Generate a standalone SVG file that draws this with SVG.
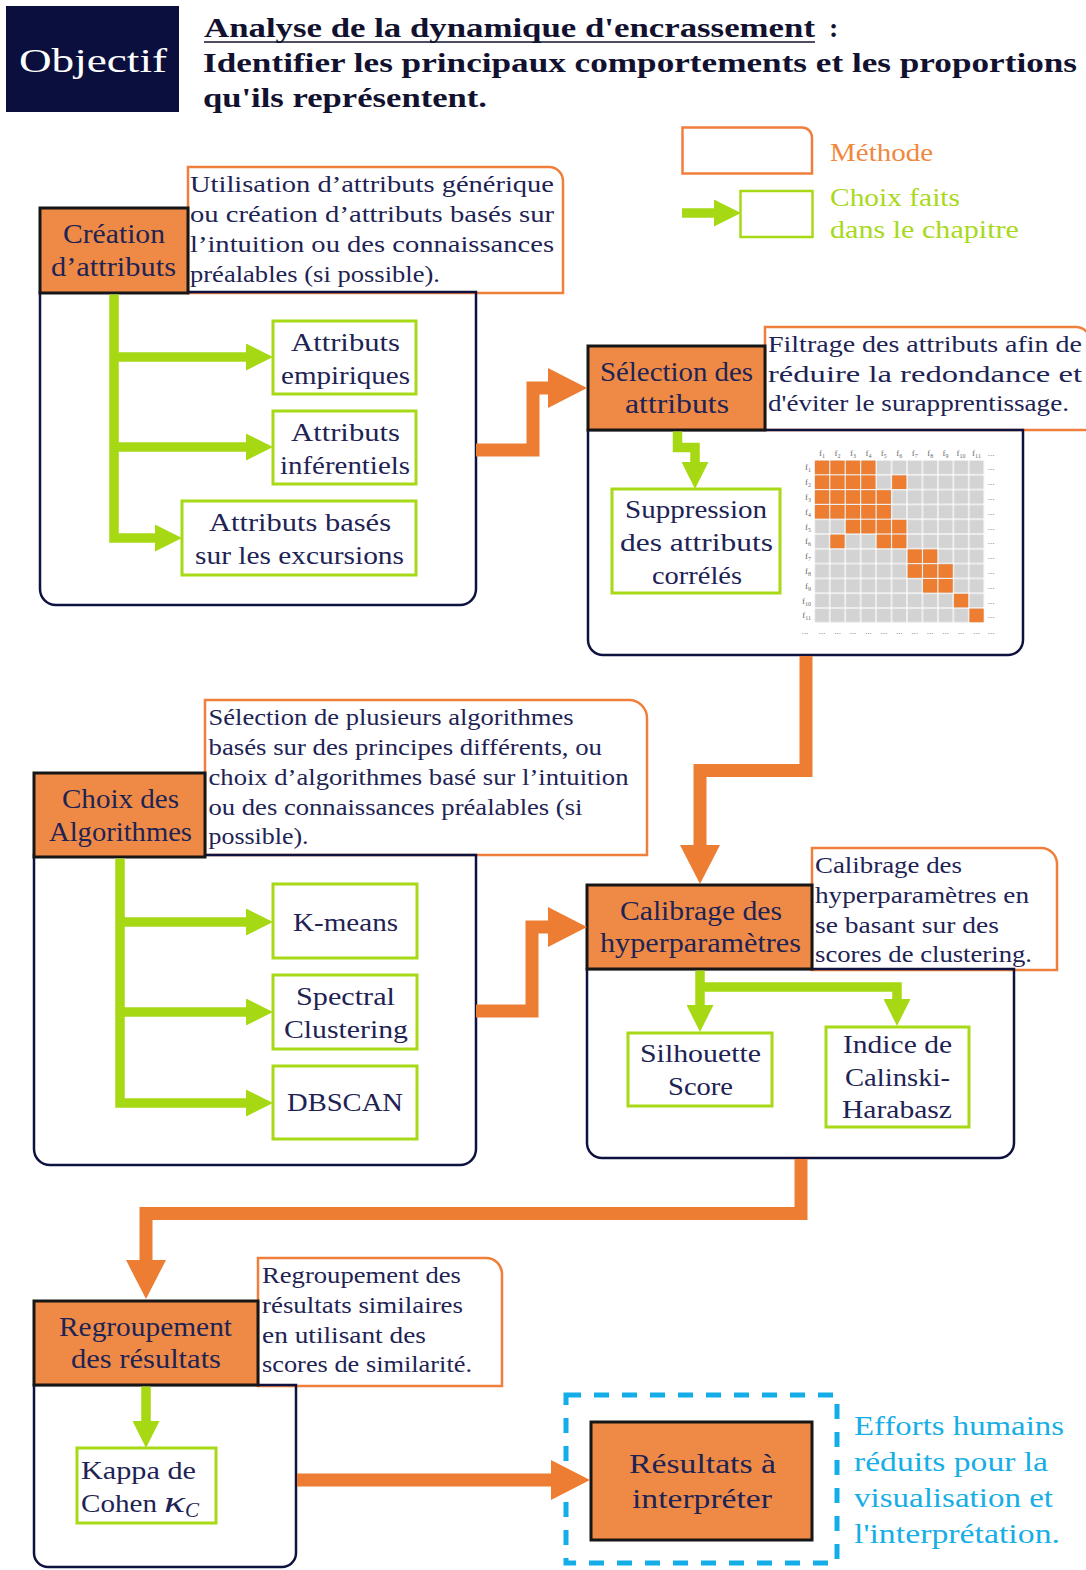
<svg xmlns="http://www.w3.org/2000/svg" xmlns:xlink="http://www.w3.org/1999/xlink" width="1086" height="1570" viewBox="0 0 1086 1570">
  <style>
    text { font-family: "Liberation Serif", "DejaVu Serif", serif; fill: #1e2354; }
    .hd { font-size: 28px; font-weight: bold; fill: #121230; }
    .nt { font-size: 27px; }
    .gt { font-size: 25px; }
    .dt { font-size: 23.5px; }
    .bt { font-size: 27px; fill: #17aee6; }
    .mx { font-size: 9px; fill: #6a6a6a; }
    .nd { fill: #ee8a45; stroke: #161616; stroke-width: 3; }
    .ds { fill: #ffffff; stroke: #f07f3c; stroke-width: 2.5; }
    .ct { fill: none; stroke: #0e1240; stroke-width: 2.5; }
    .ch { fill: #ffffff; stroke: #a8d916; stroke-width: 3; }
    .oa { fill: none; stroke: #ec7d32; stroke-width: 13; stroke-linejoin: miter; }
    .ga { fill: none; stroke: #a6d914; stroke-width: 9.5; stroke-linejoin: miter; }
    .oc { fill: #ed7d31; }
  </style>
  <defs>
    <marker id="headO" markerUnits="userSpaceOnUse" viewBox="0 0 39 40" markerWidth="39" markerHeight="40" refX="0" refY="20" orient="auto">
      <path d="M0,0 L39,20 L0,40 Z" fill="#ec7d32"/>
    </marker>
    <marker id="headG" markerUnits="userSpaceOnUse" viewBox="0 0 27 27" markerWidth="27" markerHeight="27" refX="0" refY="13.5" orient="auto">
      <path d="M0,0 L27,13.5 L0,27 Z" fill="#a6d914"/>
    </marker>
    <pattern id="grid" patternUnits="userSpaceOnUse" x="814.3" y="460" width="15.45" height="14.8">
      <rect width="15.45" height="14.8" fill="#ffffff"/>
      <rect x="0.6" y="0.6" width="14.25" height="13.6" fill="#d3d3d3"/>
    </pattern>
    <rect id="cell" width="14.25" height="13.6" class="oc"/>
  </defs>

  <rect width="1086" height="1570" fill="#ffffff"/>

  <!-- title block -->
  <g id="header">
    <rect x="6" y="6" width="173" height="106" fill="#0b0f3e"/>
    <text x="19" y="72" font-size="34" style="fill:#ffffff" textLength="148" lengthAdjust="spacingAndGlyphs">Objectif</text>
    <text class="hd" x="204" y="37" textLength="611" lengthAdjust="spacingAndGlyphs">Analyse de la dynamique d'encrassement</text>
    <line x1="204" y1="42" x2="815" y2="42" stroke="#121230" stroke-width="1.6"/>
    <text class="hd" x="829" y="37">:</text>
    <text class="hd" x="203" y="72" textLength="874" lengthAdjust="spacingAndGlyphs">Identifier les principaux comportements et les proportions</text>
    <text class="hd" x="203" y="107" textLength="284" lengthAdjust="spacingAndGlyphs">qu'ils représentent.</text>
  </g>

  <!-- key -->
  <g id="legend">
    <path d="M682.5,127.5 H802 A10,10 0 0 1 812,137.5 V173.5 H682.5 Z" fill="none" stroke="#f07f3c" stroke-width="2.5"/>
    <text x="830" y="161" font-size="26" style="fill:#f0883e" textLength="103" lengthAdjust="spacingAndGlyphs">Méthode</text>
    <rect x="740.5" y="191" width="72" height="46" fill="none" stroke="#a8d916" stroke-width="2.5"/>
    <text x="830" y="206" font-size="26" style="fill:#a8d91c" textLength="130" lengthAdjust="spacingAndGlyphs">Choix faits</text>
    <text x="830" y="238" font-size="26" style="fill:#a8d91c" textLength="189" lengthAdjust="spacingAndGlyphs">dans le chapitre</text>
  </g>

  <!-- step 1 -->
  <g id="creation-attributs">
    <path class="ds" d="M188,167 H549 A14,14 0 0 1 563,181 V293 H188 Z"/>
    <text class="dt" x="190" y="192" textLength="364" lengthAdjust="spacingAndGlyphs">Utilisation d’attributs générique</text>
    <text class="dt" x="190" y="222" textLength="364" lengthAdjust="spacingAndGlyphs">ou création d’attributs basés sur</text>
    <text class="dt" x="190" y="252" textLength="364" lengthAdjust="spacingAndGlyphs">l’intuition ou des connaissances</text>
    <text class="dt" x="190" y="282" textLength="250" lengthAdjust="spacingAndGlyphs">préalables (si possible).</text>
    <path class="ct" d="M40,292 H476 V589 A16,16 0 0 1 460,605 H56 A16,16 0 0 1 40,589 Z"/>
    <rect class="nd" x="40" y="208" width="148" height="85"/>
    <text class="nt" x="63" y="243" textLength="102" lengthAdjust="spacingAndGlyphs">Création</text>
    <text class="nt" x="51" y="276" textLength="125" lengthAdjust="spacingAndGlyphs">d’attributs</text>
  </g>
  <g id="attr-empiriques">
    <rect class="ch" x="273" y="321" width="143" height="73"/>
    <text class="gt" x="291" y="351" textLength="109" lengthAdjust="spacingAndGlyphs">Attributs</text>
    <text class="gt" x="281" y="384" textLength="129" lengthAdjust="spacingAndGlyphs">empiriques</text>
  </g>
  <g id="attr-inferentiels">
    <rect class="ch" x="273" y="411" width="143" height="73"/>
    <text class="gt" x="291" y="441" textLength="109" lengthAdjust="spacingAndGlyphs">Attributs</text>
    <text class="gt" x="280" y="474" textLength="130" lengthAdjust="spacingAndGlyphs">inférentiels</text>
  </g>
  <g id="attr-excursions">
    <rect class="ch" x="182" y="501" width="234" height="74"/>
    <text class="gt" x="209" y="531" textLength="182" lengthAdjust="spacingAndGlyphs">Attributs basés</text>
    <text class="gt" x="195" y="564" textLength="209" lengthAdjust="spacingAndGlyphs">sur les excursions</text>
  </g>

  <!-- step 2 -->
  <g id="selection-attributs">
    <path class="ds" d="M765,327 H1076 A14,14 0 0 1 1090,341 V430 H765 Z"/>
    <text class="dt" x="768" y="352" textLength="314" lengthAdjust="spacingAndGlyphs">Filtrage des attributs afin de</text>
    <text class="dt" x="768" y="382" textLength="314" lengthAdjust="spacingAndGlyphs">réduire la redondance et</text>
    <text class="dt" x="768" y="411" textLength="301" lengthAdjust="spacingAndGlyphs">d'éviter le surapprentissage.</text>
    <path class="ct" d="M588,430 H1023 V640 A15,15 0 0 1 1008,655 H603 A15,15 0 0 1 588,640 Z"/>
    <rect class="nd" x="588" y="346" width="177" height="84"/>
    <text class="nt" x="600" y="381" textLength="153" lengthAdjust="spacingAndGlyphs">Sélection des</text>
    <text class="nt" x="625" y="413" textLength="104" lengthAdjust="spacingAndGlyphs">attributs</text>
  </g>
  <g id="suppression-correles">
    <rect class="ch" x="612" y="489" width="168" height="104"/>
    <text class="gt" x="625" y="518" textLength="142" lengthAdjust="spacingAndGlyphs">Suppression</text>
    <text class="gt" x="620" y="551" textLength="153" lengthAdjust="spacingAndGlyphs">des attributs</text>
    <text class="gt" x="652" y="584" textLength="90" lengthAdjust="spacingAndGlyphs">corrélés</text>
  </g>

  <!-- correlation matrix -->
  <g id="correlation-matrix">
    <rect x="814.3" y="460" width="170" height="162.8" fill="url(#grid)"/>
    <!-- row 1 -->
    <use href="#cell" x="814.9" y="460.6"/><use href="#cell" x="830.35" y="460.6"/><use href="#cell" x="845.8" y="460.6"/><use href="#cell" x="861.25" y="460.6"/>
    <!-- row 2 -->
    <use href="#cell" x="814.9" y="475.4"/><use href="#cell" x="830.35" y="475.4"/><use href="#cell" x="845.8" y="475.4"/><use href="#cell" x="861.25" y="475.4"/><use href="#cell" x="892.15" y="475.4"/>
    <!-- row 3 -->
    <use href="#cell" x="814.9" y="490.2"/><use href="#cell" x="830.35" y="490.2"/><use href="#cell" x="845.8" y="490.2"/><use href="#cell" x="861.25" y="490.2"/><use href="#cell" x="876.7" y="490.2"/>
    <!-- row 4 -->
    <use href="#cell" x="814.9" y="505"/><use href="#cell" x="830.35" y="505"/><use href="#cell" x="845.8" y="505"/><use href="#cell" x="861.25" y="505"/><use href="#cell" x="876.7" y="505"/>
    <!-- row 5 -->
    <use href="#cell" x="845.8" y="519.8"/><use href="#cell" x="861.25" y="519.8"/><use href="#cell" x="876.7" y="519.8"/><use href="#cell" x="892.15" y="519.8"/>
    <!-- row 6 -->
    <use href="#cell" x="830.35" y="534.6"/><use href="#cell" x="876.7" y="534.6"/><use href="#cell" x="892.15" y="534.6"/>
    <!-- row 7 -->
    <use href="#cell" x="907.6" y="549.4"/><use href="#cell" x="923.05" y="549.4"/>
    <!-- row 8 -->
    <use href="#cell" x="907.6" y="564.2"/><use href="#cell" x="923.05" y="564.2"/><use href="#cell" x="938.5" y="564.2"/>
    <!-- row 9 -->
    <use href="#cell" x="923.05" y="579"/><use href="#cell" x="938.5" y="579"/>
    <!-- row 10 -->
    <use href="#cell" x="953.95" y="593.8"/>
    <!-- row 11 -->
    <use href="#cell" x="969.4" y="608.6"/>

    <g text-anchor="middle">
      <text class="mx" x="822" y="456">f<tspan font-size="6" dy="2">1</tspan></text>
      <text class="mx" x="837.5" y="456">f<tspan font-size="6" dy="2">2</tspan></text>
      <text class="mx" x="852.9" y="456">f<tspan font-size="6" dy="2">3</tspan></text>
      <text class="mx" x="868.4" y="456">f<tspan font-size="6" dy="2">4</tspan></text>
      <text class="mx" x="883.8" y="456">f<tspan font-size="6" dy="2">5</tspan></text>
      <text class="mx" x="899.3" y="456">f<tspan font-size="6" dy="2">6</tspan></text>
      <text class="mx" x="914.7" y="456">f<tspan font-size="6" dy="2">7</tspan></text>
      <text class="mx" x="930.2" y="456">f<tspan font-size="6" dy="2">8</tspan></text>
      <text class="mx" x="945.6" y="456">f<tspan font-size="6" dy="2">9</tspan></text>
      <text class="mx" x="961.1" y="456">f<tspan font-size="6" dy="2">10</tspan></text>
      <text class="mx" x="976.5" y="456">f<tspan font-size="6" dy="2">11</tspan></text>
      <text class="mx" x="991" y="456">...</text>
    </g>
    <g text-anchor="end">
      <text class="mx" x="811" y="470.4">f<tspan font-size="6" dy="2">1</tspan></text>
      <text class="mx" x="811" y="485.2">f<tspan font-size="6" dy="2">2</tspan></text>
      <text class="mx" x="811" y="500">f<tspan font-size="6" dy="2">3</tspan></text>
      <text class="mx" x="811" y="514.8">f<tspan font-size="6" dy="2">4</tspan></text>
      <text class="mx" x="811" y="529.6">f<tspan font-size="6" dy="2">5</tspan></text>
      <text class="mx" x="811" y="544.4">f<tspan font-size="6" dy="2">6</tspan></text>
      <text class="mx" x="811" y="559.2">f<tspan font-size="6" dy="2">7</tspan></text>
      <text class="mx" x="811" y="574">f<tspan font-size="6" dy="2">8</tspan></text>
      <text class="mx" x="811" y="588.8">f<tspan font-size="6" dy="2">9</tspan></text>
      <text class="mx" x="811" y="603.6">f<tspan font-size="6" dy="2">10</tspan></text>
      <text class="mx" x="811" y="618.4">f<tspan font-size="6" dy="2">11</tspan></text>
    </g>
    <g text-anchor="middle">
      <text class="mx" x="991" y="470.4">...</text>
      <text class="mx" x="991" y="485.2">...</text>
      <text class="mx" x="991" y="500">...</text>
      <text class="mx" x="991" y="514.8">...</text>
      <text class="mx" x="991" y="529.6">...</text>
      <text class="mx" x="991" y="544.4">...</text>
      <text class="mx" x="991" y="559.2">...</text>
      <text class="mx" x="991" y="574">...</text>
      <text class="mx" x="991" y="588.8">...</text>
      <text class="mx" x="991" y="603.6">...</text>
      <text class="mx" x="991" y="618.4">...</text>
      <text class="mx" x="805" y="634">...</text>
      <text class="mx" x="822" y="634">...</text>
      <text class="mx" x="837.5" y="634">...</text>
      <text class="mx" x="852.9" y="634">...</text>
      <text class="mx" x="868.4" y="634">...</text>
      <text class="mx" x="883.8" y="634">...</text>
      <text class="mx" x="899.3" y="634">...</text>
      <text class="mx" x="914.7" y="634">...</text>
      <text class="mx" x="930.2" y="634">...</text>
      <text class="mx" x="945.6" y="634">...</text>
      <text class="mx" x="961.1" y="634">...</text>
      <text class="mx" x="976.5" y="634">...</text>
      <text class="mx" x="991" y="634">...</text>
    </g>
  </g>

  <!-- step 3 -->
  <g id="choix-algorithmes">
    <path class="ds" d="M205,700 H629 A18,18 0 0 1 647,718 V855 H205 Z"/>
    <text class="dt" x="208.5" y="725" textLength="365" lengthAdjust="spacingAndGlyphs">Sélection de plusieurs algorithmes</text>
    <text class="dt" x="208.5" y="755" textLength="393.5" lengthAdjust="spacingAndGlyphs">basés sur des principes différents, ou</text>
    <text class="dt" x="208.5" y="785" textLength="420" lengthAdjust="spacingAndGlyphs">choix d’algorithmes basé sur l’intuition</text>
    <text class="dt" x="208.5" y="815" textLength="374" lengthAdjust="spacingAndGlyphs">ou des connaissances préalables (si</text>
    <text class="dt" x="208.5" y="844" textLength="100" lengthAdjust="spacingAndGlyphs">possible).</text>
    <path class="ct" d="M34,855 H476 V1149 A16,16 0 0 1 460,1165 H50 A16,16 0 0 1 34,1149 Z"/>
    <rect class="nd" x="34" y="773" width="171" height="84"/>
    <text class="nt" x="62" y="808" textLength="117" lengthAdjust="spacingAndGlyphs">Choix des</text>
    <text class="nt" x="49" y="841" textLength="143" lengthAdjust="spacingAndGlyphs">Algorithmes</text>
  </g>
  <g id="kmeans">
    <rect class="ch" x="273" y="884" width="144" height="74"/>
    <text class="gt" x="293" y="931" textLength="105" lengthAdjust="spacingAndGlyphs">K-means</text>
  </g>
  <g id="spectral-clustering">
    <rect class="ch" x="273" y="975" width="144" height="74"/>
    <text class="gt" x="296" y="1005" textLength="99" lengthAdjust="spacingAndGlyphs">Spectral</text>
    <text class="gt" x="284" y="1038" textLength="124" lengthAdjust="spacingAndGlyphs">Clustering</text>
  </g>
  <g id="dbscan">
    <rect class="ch" x="273" y="1066" width="144" height="73"/>
    <text class="gt" x="287" y="1111" textLength="116" lengthAdjust="spacingAndGlyphs">DBSCAN</text>
  </g>

  <!-- step 4 -->
  <g id="calibrage">
    <path class="ds" d="M812,848 H1041 A16,16 0 0 1 1057,864 V970 H812 Z"/>
    <text class="dt" x="815" y="873" textLength="147" lengthAdjust="spacingAndGlyphs">Calibrage des</text>
    <text class="dt" x="815" y="903" textLength="214" lengthAdjust="spacingAndGlyphs">hyperparamètres en</text>
    <text class="dt" x="815" y="933" textLength="184" lengthAdjust="spacingAndGlyphs">se basant sur des</text>
    <text class="dt" x="815" y="962" textLength="217" lengthAdjust="spacingAndGlyphs">scores de clustering.</text>
    <path class="ct" d="M587,969 H1014 V1143 A15,15 0 0 1 999,1158 H602 A15,15 0 0 1 587,1143 Z"/>
    <rect class="nd" x="587" y="885" width="225" height="84"/>
    <text class="nt" x="620" y="920" textLength="162" lengthAdjust="spacingAndGlyphs">Calibrage des</text>
    <text class="nt" x="600" y="952" textLength="201" lengthAdjust="spacingAndGlyphs">hyperparamètres</text>
  </g>
  <g id="silhouette">
    <rect class="ch" x="628" y="1033" width="144" height="73"/>
    <text class="gt" x="640" y="1062" textLength="121" lengthAdjust="spacingAndGlyphs">Silhouette</text>
    <text class="gt" x="668" y="1095" textLength="65" lengthAdjust="spacingAndGlyphs">Score</text>
  </g>
  <g id="calinski-harabasz">
    <rect class="ch" x="826" y="1027" width="143" height="100"/>
    <text class="gt" x="843" y="1053" textLength="109" lengthAdjust="spacingAndGlyphs">Indice de</text>
    <text class="gt" x="845" y="1086" textLength="105" lengthAdjust="spacingAndGlyphs">Calinski-</text>
    <text class="gt" x="842" y="1118" textLength="110" lengthAdjust="spacingAndGlyphs">Harabasz</text>
  </g>

  <!-- step 5 -->
  <g id="regroupement">
    <path class="ds" d="M258,1258 H486 A16,16 0 0 1 502,1274 V1386 H258 Z"/>
    <text class="dt" x="262" y="1283" textLength="199" lengthAdjust="spacingAndGlyphs">Regroupement des</text>
    <text class="dt" x="262" y="1313" textLength="201" lengthAdjust="spacingAndGlyphs">résultats similaires</text>
    <text class="dt" x="262" y="1343" textLength="164" lengthAdjust="spacingAndGlyphs">en utilisant des</text>
    <text class="dt" x="262" y="1372" textLength="210" lengthAdjust="spacingAndGlyphs">scores de similarité.</text>
    <path class="ct" d="M34,1385 H296 V1553 A14,14 0 0 1 282,1567 H48 A14,14 0 0 1 34,1553 Z"/>
    <rect class="nd" x="34" y="1301" width="224" height="84"/>
    <text class="nt" x="59" y="1336" textLength="173" lengthAdjust="spacingAndGlyphs">Regroupement</text>
    <text class="nt" x="71" y="1368" textLength="150" lengthAdjust="spacingAndGlyphs">des résultats</text>
  </g>
  <g id="kappa-cohen">
    <rect class="ch" x="77" y="1448" width="139" height="75"/>
    <text class="gt" x="81" y="1479" textLength="115" lengthAdjust="spacingAndGlyphs">Kappa de</text>
    <text class="gt" x="81" y="1512" textLength="76" lengthAdjust="spacingAndGlyphs">Cohen</text>
    <text x="164" y="1512" font-size="30" font-style="italic" textLength="21" lengthAdjust="spacingAndGlyphs">κ</text>
    <text x="185" y="1517" font-size="21" font-style="italic">C</text>
  </g>

  <!-- step 6 -->
  <g id="resultats">
    <rect x="566" y="1395" width="271" height="168" fill="none" stroke="#13aee8" stroke-width="5" stroke-dasharray="15 13"/>
    <rect class="nd" x="591" y="1422" width="221" height="118"/>
    <text class="nt" x="629" y="1473" textLength="147" lengthAdjust="spacingAndGlyphs">Résultats à</text>
    <text class="nt" x="632" y="1508" textLength="140" lengthAdjust="spacingAndGlyphs">interpréter</text>
    <text class="bt" x="854" y="1435" textLength="210" lengthAdjust="spacingAndGlyphs">Efforts humains</text>
    <text class="bt" x="854" y="1471" textLength="194" lengthAdjust="spacingAndGlyphs">réduits pour la</text>
    <text class="bt" x="854" y="1507" textLength="199" lengthAdjust="spacingAndGlyphs">visualisation et</text>
    <text class="bt" x="854" y="1543" textLength="206" lengthAdjust="spacingAndGlyphs">l'interprétation.</text>
  </g>

  <!-- arrows -->
  <g id="connectors">
    <polyline class="oa" points="476,450 533,450 533,388 548,388" marker-end="url(#headO)"/>
    <polyline class="oa" points="806,656 806,770.5 700,770.5 700,845" marker-end="url(#headO)"/>
    <polyline class="oa" points="476,1011 532,1011 532,927 548,927" marker-end="url(#headO)"/>
    <polyline class="oa" points="801,1159 801,1213.5 146,1213.5 146,1260" marker-end="url(#headO)"/>
    <polyline class="oa" points="297,1480 551,1480" marker-end="url(#headO)"/>

    <polyline class="ga" points="682,213 714,213" marker-end="url(#headG)"/>
    <polyline class="ga" points="114,294.5 114,538 155,538" marker-end="url(#headG)"/>
    <polyline class="ga" points="114,357 246,357" marker-end="url(#headG)"/>
    <polyline class="ga" points="114,447 246,447" marker-end="url(#headG)"/>
    <polyline class="ga" points="677.5,431.5 677.5,447.5 695,447.5 695,462" marker-end="url(#headG)"/>
    <polyline class="ga" points="120,858.5 120,1103 246,1103" marker-end="url(#headG)"/>
    <polyline class="ga" points="120,922 246,922" marker-end="url(#headG)"/>
    <polyline class="ga" points="120,1012 246,1012" marker-end="url(#headG)"/>
    <polyline class="ga" points="700,970.5 700,1005" marker-end="url(#headG)"/>
    <polyline class="ga" points="700,987 897,987 897,999" marker-end="url(#headG)"/>
    <polyline class="ga" points="146,1386.5 146,1421" marker-end="url(#headG)"/>
  </g>
</svg>
